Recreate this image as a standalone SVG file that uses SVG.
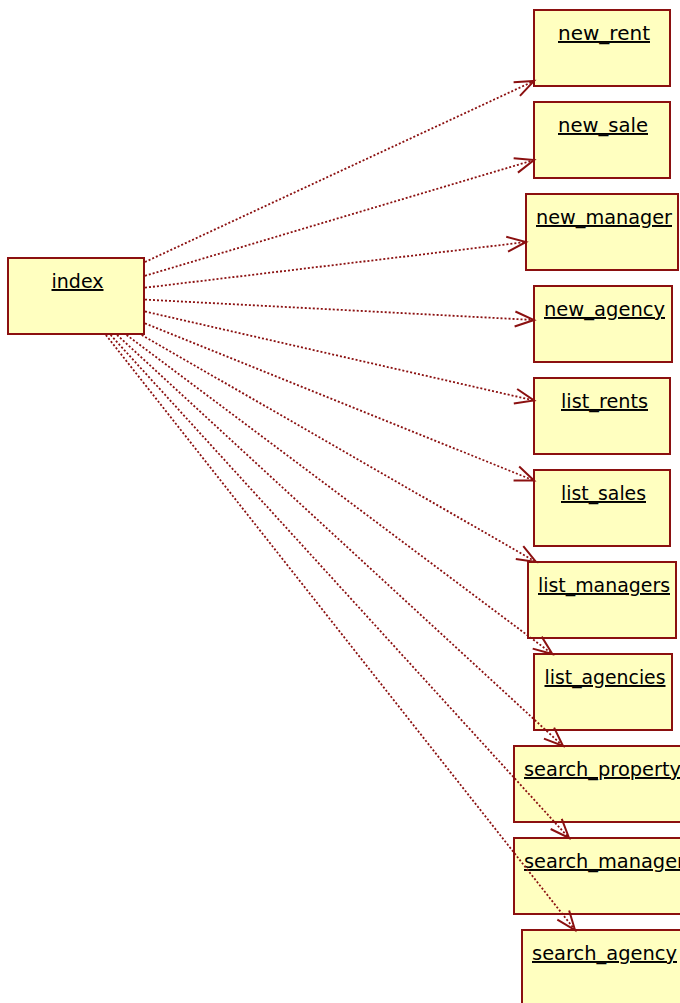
<svg xmlns="http://www.w3.org/2000/svg" width="680" height="1003" viewBox="0 0 680 1003">
<style>
.box{fill:#ffffc0;stroke:#8b1010;stroke-width:2}
.lbl{font-family:"DejaVu Sans",Verdana,sans-serif;font-size:19.5px;fill:#000;text-decoration:underline}
.dep{fill:none;stroke:#8b1010;stroke-width:1.8;stroke-dasharray:2 2;marker-end:url(#open)}
</style>
<defs>
<marker id="open" markerUnits="userSpaceOnUse" markerWidth="40" markerHeight="40" refX="0" refY="0" orient="auto" viewBox="-30 -20 40 40" overflow="visible">
<path d="M-19,-7.5 L0,0 L-19,7.5" fill="none" stroke="#8b1010" stroke-width="2"/>
</marker>
</defs>
<rect width="680" height="1003" fill="#fff"/>
<g id="index"><rect class="box" x="8" y="258" width="136" height="76"/><text class="lbl" x="77.5" y="288" text-anchor="middle" textLength="52" lengthAdjust="spacingAndGlyphs">index</text></g>
<g id="new_rent"><rect class="box" x="534" y="10" width="136" height="76"/><text class="lbl" x="604" y="40" text-anchor="middle" textLength="92" lengthAdjust="spacingAndGlyphs">new_rent</text></g>
<g id="new_sale"><rect class="box" x="534" y="102" width="136" height="76"/><text class="lbl" x="603" y="132" text-anchor="middle" textLength="90" lengthAdjust="spacingAndGlyphs">new_sale</text></g>
<g id="new_manager"><rect class="box" x="526" y="194" width="152" height="76"/><text class="lbl" x="604" y="224" text-anchor="middle" textLength="136" lengthAdjust="spacingAndGlyphs">new_manager</text></g>
<g id="new_agency"><rect class="box" x="534" y="286" width="138" height="76"/><text class="lbl" x="604.5" y="316" text-anchor="middle" textLength="121" lengthAdjust="spacingAndGlyphs">new_agency</text></g>
<g id="list_rents"><rect class="box" x="534" y="378" width="136" height="76"/><text class="lbl" x="604.5" y="408" text-anchor="middle" textLength="87" lengthAdjust="spacingAndGlyphs">list_rents</text></g>
<g id="list_sales"><rect class="box" x="534" y="470" width="136" height="76"/><text class="lbl" x="603.5" y="500" text-anchor="middle" textLength="85" lengthAdjust="spacingAndGlyphs">list_sales</text></g>
<g id="list_managers"><rect class="box" x="528" y="562" width="148" height="76"/><text class="lbl" x="604" y="592" text-anchor="middle" textLength="132" lengthAdjust="spacingAndGlyphs">list_managers</text></g>
<g id="list_agencies"><rect class="box" x="534" y="654" width="138" height="76"/><text class="lbl" x="605" y="684" text-anchor="middle" textLength="121" lengthAdjust="spacingAndGlyphs">list_agencies</text></g>
<g id="search_property"><rect class="box" x="514" y="746" width="180" height="76"/><text class="lbl" x="524" y="776" textLength="157" lengthAdjust="spacingAndGlyphs">search_property</text></g>
<g id="search_manager"><rect class="box" x="514" y="838" width="180" height="76"/><text class="lbl" x="524" y="868" textLength="161" lengthAdjust="spacingAndGlyphs">search_manager</text></g>
<g id="search_agency"><rect class="box" x="522" y="930" width="166" height="76"/><text class="lbl" x="532" y="960" textLength="145" lengthAdjust="spacingAndGlyphs">search_agency</text></g>
<g id="connectors">
<line class="dep" x1="145" y1="262" x2="534" y2="81"/>
<line class="dep" x1="145" y1="275.8" x2="534" y2="160"/>
<line class="dep" x1="145" y1="287.7" x2="526" y2="242"/>
<line class="dep" x1="145" y1="299.6" x2="534" y2="320"/>
<line class="dep" x1="145" y1="311.5" x2="534" y2="400.5"/>
<line class="dep" x1="145" y1="323.4" x2="534" y2="480.6"/>
<line class="dep" x1="141.7" y1="335" x2="536" y2="562"/>
<line class="dep" x1="126.6" y1="335" x2="552.4" y2="654"/>
<line class="dep" x1="117.1" y1="335" x2="563" y2="746"/>
<line class="dep" x1="110.6" y1="335" x2="569" y2="838"/>
<line class="dep" x1="105.9" y1="335" x2="575" y2="930"/>
</g>
</svg>
